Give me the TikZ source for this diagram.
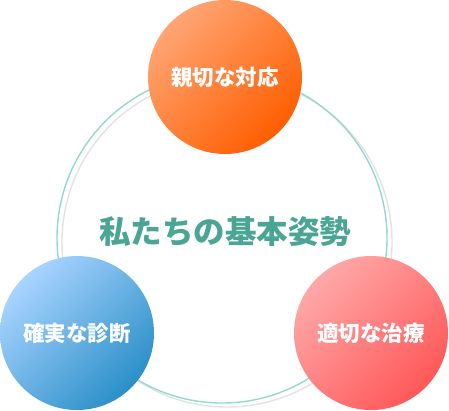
\documentclass[tikz,border=0pt]{standalone}
\usepackage{fontspec}
\newfontfamily\jp{Noto Sans CJK JP}
\definecolor{ringteal}{HTML}{93DACE}
\definecolor{ringgray}{HTML}{E2E2E2}
\definecolor{titleteal}{HTML}{4AA593}
\definecolor{orA}{HTML}{FFA574}
\definecolor{orB}{HTML}{FF5E00}
\definecolor{blA}{HTML}{AAD4FF}
\definecolor{blB}{HTML}{2A8FC8}
\definecolor{rdA}{HTML}{FFA8A8}
\definecolor{rdB}{HTML}{FF5858}
\tikzset{
  ring/.style={circle, minimum size=330pt, inner sep=0pt, line width=1.4pt},
  ball/.style={circle, minimum size=154pt, inner sep=0pt, text=white,
    font=\jp\bfseries\fontsize{21.5}{26}\selectfont},
  grad/.style 2 args={top color=#1, bottom color=#2, shading angle=45},
}
\begin{document}
\begin{tikzpicture}[x=1pt,y=-1pt]
\useasboundingbox (0,0) rectangle (449,410);
\node[ring, draw=ringgray] (gring) at (227,242) {};
\node[ring, draw=ringteal] (tring) at (222,238) {};
\node[ball, grad={orA}{orB}] (top) at (225,77) {親切な対応};
\node[ball, grad={blA}{blB}] (left) at (77,333) {確実な診断};
\node[ball, grad={rdA}{rdB}] (right) at (371,333) {適切な治療};
\node[text=titleteal, font=\jp\bfseries\fontsize{31.5}{36}\selectfont] (title) at (225,232) {私たちの基本姿勢};
\end{tikzpicture}
\end{document}
